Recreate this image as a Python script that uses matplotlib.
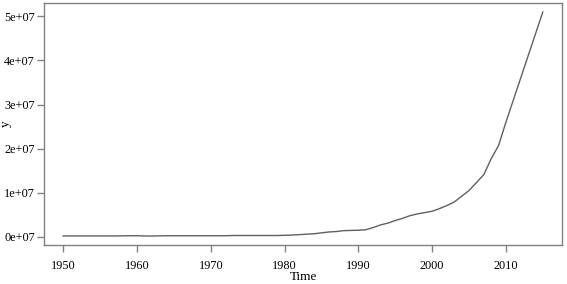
import matplotlib
matplotlib.use("Agg")
import matplotlib.pyplot as plt
import numpy as np

years = list(range(1950, 2016))
values_e7 = [
    # 1950-1959
    0.02, 0.02, 0.02, 0.02, 0.02, 0.02, 0.02, 0.02, 0.022, 0.025,
    # 1960-1969
    0.025, 0.02, 0.018, 0.022, 0.025, 0.025, 0.025, 0.025, 0.025, 0.025,
    # 1970-1979
    0.025, 0.025, 0.025, 0.03, 0.03, 0.03, 0.03, 0.03, 0.03, 0.03,
    # 1980-1989
    0.035, 0.04, 0.05, 0.06, 0.07, 0.09, 0.11, 0.12, 0.14, 0.145,
    # 1990-1999
    0.15, 0.16, 0.21, 0.27, 0.31, 0.37, 0.42, 0.48, 0.52, 0.55,
    # 2000-2009
    0.58, 0.64, 0.71, 0.79, 0.92, 1.05, 1.23, 1.41, 1.77, 2.07,
    # 2010-2015
    2.6, 3.1, 3.6, 4.1, 4.6, 5.1,
]
values = [v * 1e7 for v in values_e7]
xticks = [1950, 1960, 1970, 1980, 1990, 2000, 2010]
yticks = [0, 1e7, 2e7, 3e7, 4e7, 5e7]
ytick_labels = ["0e+07", "1e+07", "2e+07", "3e+07", "4e+07", "5e+07"]

plt.rcParams['font.family'] = ['Liberation Serif', 'DejaVu Serif']
fig = plt.figure(figsize=(5.67, 2.84), dpi=100)
W, H = 567, 284
L, R, T, B = 44, 562, 3, 245
ax = fig.add_axes([L / W, 1 - B / H, (R - L) / W, (B - T) / H])
ax.plot(years, values, color="#606060", linewidth=1.0)

rng = max(years) - min(years)
ax.set_xlim(min(years) - 0.04 * rng, max(years) + 0.04 * rng)
yr = max(values) - min(values)
ax.set_ylim(min(values) - 0.04 * yr, max(values) + 0.04 * yr)

ax.set_xticks(xticks)
ax.set_xticklabels([str(x) for x in xticks])
ax.set_yticks(yticks)
ax.set_yticklabels(ytick_labels)
for s in ax.spines.values():
    s.set_color("#808080")
    s.set_linewidth(1.0)
ax.tick_params(axis="both", colors="#808080", length=5, width=1.0, labelsize=8.8,
               labelcolor="black")
ax.tick_params(axis="x", pad=6)
ax.tick_params(axis="y", pad=1.5)
ax.set_xlabel("Time", fontsize=9.5)
ax.xaxis.label.set_va("center")
ax.xaxis.set_label_coords(0.5, -(277 - B) / (B - T))
ax.set_ylabel("y", fontsize=9.5)
ax.yaxis.label.set_va("center")
ax.yaxis.set_label_coords(-(L - 6) / (R - L), 0.5)

fig.savefig("out.png", dpi=100)
